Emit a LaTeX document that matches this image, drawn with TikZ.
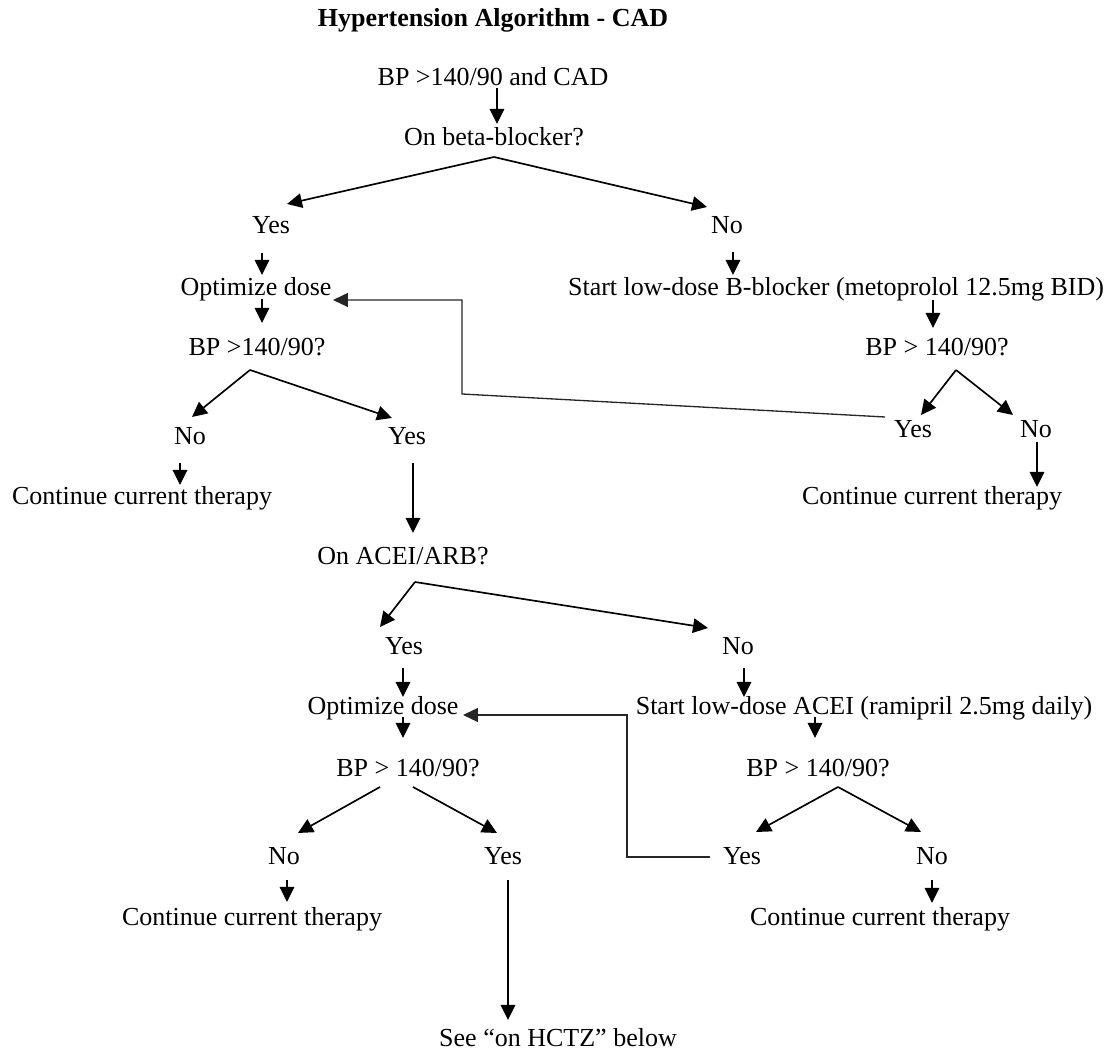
\documentclass[tikz,border=0pt]{standalone}
\usepackage{fontspec}
\setmainfont{Liberation Serif}
\usetikzlibrary{arrows.meta,calc}

\begin{document}
\begin{tikzpicture}[x=0.02cm,y=-0.02cm,
  font=\fontsize{14.8}{17}\selectfont,
  every node/.style={anchor=base,inner sep=0pt},
  arr/.style={line width=0.95pt,-{Triangle[length=0.3cm,width=0.29cm]}},
  loopback/.style={line width=0.75pt,draw=black!85,-{Triangle[length=0.3cm,width=0.28cm]}}]
 \useasboundingbox (0,0) rectangle (1117,1053);
 % title and first question
 \node[font=\fontsize{14.8}{17}\selectfont\bfseries] (title) at (493,27) {Hypertension Algorithm - CAD};
 \node (start) at (493,86) {BP >140/90 and CAD};
 \node (q1) at (494,146) {On beta-blocker?};
 \node (y1) at (271,234) {Yes};
 \node (n1) at (727,234) {No};
 % left branch
 \node (opt1) at (256,296) {Optimize dose};
 \node (bp1) at (257,356) {BP >140/90?};
 \node (no2) at (190,445) {No};
 \node (yes2) at (407,445) {Yes};
 \node (cont1) at (142,505) {Continue current therapy};
 % right branch
 \node (sbb) at (836,296) {Start low-dose B-blocker (metoprolol 12.5mg BID)};
 \node (bp2) at (937,356) {BP > 140/90?};
 \node (yes3) at (913,438) {Yes};
 \node (no3) at (1036,438) {No};
 \node (cont2) at (932,505) {Continue current therapy};
 % ACEI part
 \node (acei) at (403,565) {On ACEI/ARB?};
 \node (yes4) at (404,655) {Yes};
 \node (no4) at (738,655) {No};
 \node (opt2) at (383,715) {Optimize dose};
 \node (sacei) at (864,715) {Start low-dose ACEI (ramipril 2.5mg daily)};
 \node (bp3) at (408,777) {BP > 140/90?};
 \node (bp4) at (818,777) {BP > 140/90?};
 \node (no5) at (284,865) {No};
 \node (yes5) at (503,865) {Yes};
 \node (yes6) at (742,865) {Yes};
 \node (no6) at (932,865) {No};
 \node (cont3) at (252,926) {Continue current therapy};
 \node (cont4) at (880,926) {Continue current therapy};
 \node (hctz) at (558,1047) {See “on HCTZ” below};
 \coordinate (bend1) at (462,394);
 \coordinate (bend2) at (627,857);

 \draw[arr] ($(start.base)+(4,2)$) -- ($(q1.base)+(3,-22)$);
 \draw[arr] ($(q1.base)+(0,11)$) -- ($(y1.base)+(16,-30)$);
 \draw[arr] ($(q1.base)+(0,11)$) -- ($(n1.base)+(-20,-27)$);
 \draw[arr] ($(y1.base)+(-9,19)$) -- ($(opt1.base)+(6,-21)$);
 \draw[arr] ($(opt1.base)+(6,3)$) -- ($(bp1.base)+(5,-33)$);
 \draw[arr] ($(bp1.base)+(-7,14)$) -- ($(no2.base)+(2,-28)$);
 \draw[arr] ($(bp1.base)+(-7,14)$) -- ($(yes2.base)+(-15,-27)$);
 \draw[arr] ($(no2.base)+(-10,18)$) -- ($(cont1.base)+(38,-20)$);
 \draw[arr] ($(yes2.base)+(6,18)$) -- ($(acei.base)+(10,-32)$);
 \draw[arr] ($(n1.base)+(6,18)$) -- ($(sbb.base)+(-103,-21)$);
 \draw[arr] ($(sbb.base)+(97,4)$) -- ($(bp2.base)+(-4,-28)$);
 \draw[arr] ($(bp2.base)+(19,14)$) -- ($(yes3.base)+(8,-23)$);
 \draw[arr] ($(bp2.base)+(19,14)$) -- ($(no3.base)+(-23,-23)$);
 \draw[arr] ($(no3.base)+(1,4)$) -- ($(cont2.base)+(105,-18)$);
 \draw[loopback] ($(yes3.base)+(-28,-21)$) -- (bend1) |- ($(opt1.base)+(77,4)$);

 \draw[arr] ($(acei.base)+(12,17)$) -- ($(yes4.base)+(-24,-28)$);
 \draw[arr] ($(acei.base)+(12,17)$) -- ($(no4.base)+(-30,-27)$);
 \draw[arr] ($(yes4.base)+(-1,13)$) -- ($(opt2.base)+(20,-18)$);
 \draw[arr] ($(opt2.base)+(20,2)$) -- ($(bp3.base)+(-5,-39)$);
 \draw[arr] ($(bp3.base)+(-28,10)$) -- ($(no5.base)+(14,-32)$);
 \draw[arr] ($(bp3.base)+(5,10)$) -- ($(yes5.base)+(-6,-32)$);
 \draw[arr] ($(no5.base)+(3,15)$) -- ($(cont3.base)+(35,-24)$);
 \draw[arr] ($(yes5.base)+(5,15)$) -- ($(hctz.base)+(-50,-27)$);
 \draw[arr] ($(no4.base)+(6,13)$) -- ($(sacei.base)+(-120,-18)$);
 \draw[arr] ($(sacei.base)+(-49,2)$) -- ($(bp4.base)+(-3,-39)$);
 \draw[arr] ($(bp4.base)+(20,10)$) -- ($(yes6.base)+(14,-33)$);
 \draw[arr] ($(bp4.base)+(20,10)$) -- ($(no6.base)+(-11,-33)$);
 \draw[arr] ($(no6.base)+(0,15)$) -- ($(cont4.base)+(52,-23)$);
 \draw[loopback] ($(yes6.base)+(-32,-8)$) -- (bend2) |- ($(opt2.base)+(80,0)$);
\end{tikzpicture}
\end{document}
